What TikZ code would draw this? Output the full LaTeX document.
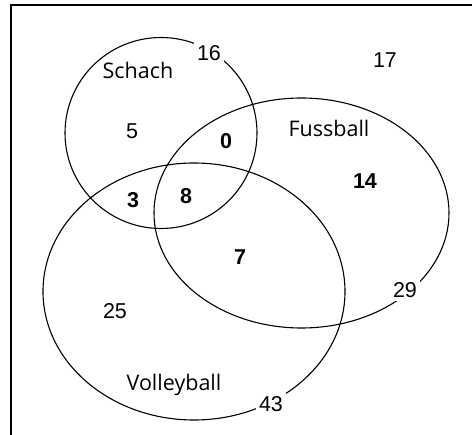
\documentclass[tikz,border=0pt]{standalone}
\usepackage{fontspec}
\setmainfont{Liberation Sans}
\newfontfamily\setnamefont{Open Sans}
\usepackage{tikz}

\tikzset{
  setline/.style={line width=1.1pt},
  setname/.style={font=\setnamefont\fontsize{21.5}{24}\selectfont},
  count/.style={font=\fontsize{21.5}{24}\selectfont},
  boldcount/.style={font=\fontsize{21.5}{24}\selectfont\bfseries},
  cut/.style={fill=white, inner sep=3pt}
}

\begin{document}
\begin{tikzpicture}[x=1pt, y=-1pt]
            \useasboundingbox (0,0) rectangle (472,435);

            % frame: only top and left edge
            \draw[line width=1.6pt] (472,5.3) -- (11,5.3) -- (11,435);

            % the three sets
            \draw[setline] (161,133) ellipse [x radius=96, y radius=95.5];
            \draw[setline] (301.5,213) ellipse [x radius=147.5, y radius=115];
            \draw[setline] (194,291.5) ellipse [x radius=151, y radius=128.5];

            % names
            \node[setname] (schach) at (138,70) {Schach};
            \node[setname] (fussball) at (329,128) {Fussball};
            \node[setname] (volleyball) at (174,385) {Volleyball};

            % totals, cutting the lines
            \node[count, cut] (schachtotal) at (209,53) {16};
            \node[count, cut] (fussballtotal) at (405,290) {29};
            \node[count, cut] (volleyballtotal) at (271,404) {43};
            \node[count] (none) at (385,60) {17};

            % regions
            \node[count] (onlyschach) at (132,131) {5};
            \node[count] (onlyvolley) at (115,311) {25};
            \node[boldcount] (schachfuss) at (226,141) {0};
            \node[boldcount] (onlyfuss) at (365,181) {14};
            \node[boldcount] (schachvolley) at (133,200) {3};
            \node[boldcount] (allthree) at (186,196) {8};
            \node[boldcount] (fussvolley) at (240,257) {7};
        \end{tikzpicture}
\end{document}
